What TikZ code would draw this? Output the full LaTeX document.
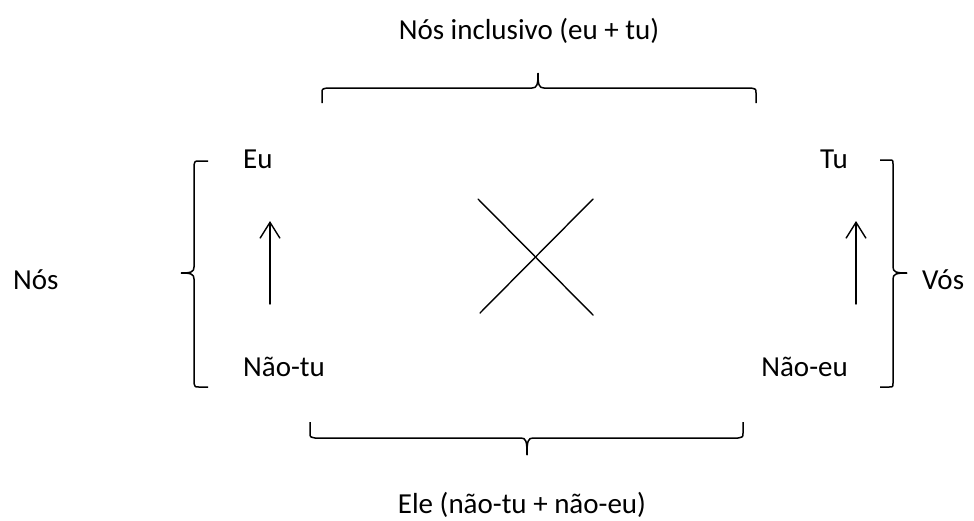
\documentclass[tikz,border=0pt]{standalone}
\usepackage{fontspec}
\setmainfont{Carlito}
\usetikzlibrary{arrows.meta}
\begin{document}
\begin{tikzpicture}[x=1pt,y=-1pt,
  lbl/.style={font=\fontsize{29}{34}\selectfont, inner sep=0pt},
  ln/.style={line width=1.4pt, line cap=round},
  brace/.style={line width=1.5pt, line join=round},
  arr/.style={ln, -{Straight Barb[length=16pt,width=20pt,line width=1.4pt]}}]
\useasboundingbox (0,0) rectangle (974,520);
% labels
\node[lbl,anchor=base] (top) at (529,39) {Nós inclusivo (eu + tu)};
\node[lbl,anchor=base] (bot) at (522,513) {Ele (não-tu + não-eu)};
\node[lbl,anchor=base west] (eu) at (243,168) {Eu};
\node[lbl,anchor=base east] (tu) at (848,168) {Tu};
\node[lbl,anchor=base west] (naotu) at (243,376) {Não-tu};
\node[lbl,anchor=base east] (naoeu) at (848,376) {Não-eu};
\node[lbl,anchor=base west] (nos) at (13,289) {Nós};
\node[lbl,anchor=base west] (vos) at (922,289) {Vós};
% arrows
\coordinate (a1s) at (270,304); \coordinate (a1e) at (270,221);
\coordinate (a2s) at (856,304); \coordinate (a2e) at (856,221);
\draw[arr] (a1s) -- (a1e);
\draw[arr] (a2s) -- (a2e);
% cross
\coordinate (x1) at (478,199); \coordinate (x2) at (593,315);
\coordinate (x3) at (480,313); \coordinate (x4) at (593,199);
\draw[ln] (x1) -- (x2);
\draw[ln] (x3) -- (x4);
% top brace
\draw[brace] (322,103) -- (322,93) .. controls (322,89) .. (327,88) -- (532,88)
  .. controls (537,88) and (538,85) .. (538,73);
\draw[brace] (538,73) .. controls (538,85) and (539,88) .. (544,88) -- (751,88)
  .. controls (756,89) .. (756,93) -- (756,103);
% bottom brace
\draw[brace] (310,422) -- (310,433) .. controls (310,437) .. (315,438) -- (521,438)
  .. controls (526,438) and (527,441) .. (527,455);
\draw[brace] (527,455) .. controls (527,441) and (528,438) .. (533,438) -- (738,438)
  .. controls (743,437) .. (743,433) -- (743,422);
% left brace
\draw[brace] (208,161) -- (199,161) .. controls (195,161) .. (194,165) -- (194,267)
  .. controls (194,272) and (191,273) .. (181,273);
\draw[brace] (181,273) .. controls (191,273) and (194,274) .. (194,279) -- (194,383)
  .. controls (195,387) .. (199,387) -- (208,387);
% right brace
\draw[brace] (880,160) -- (889,160) .. controls (893,160) .. (893,164) -- (893,267)
  .. controls (893,272) and (896,273) .. (907,273);
\draw[brace] (907,273) .. controls (896,273) and (893,274) .. (893,279) -- (893,383)
  .. controls (893,387) .. (889,387) -- (880,387);
\end{tikzpicture}
\end{document}
